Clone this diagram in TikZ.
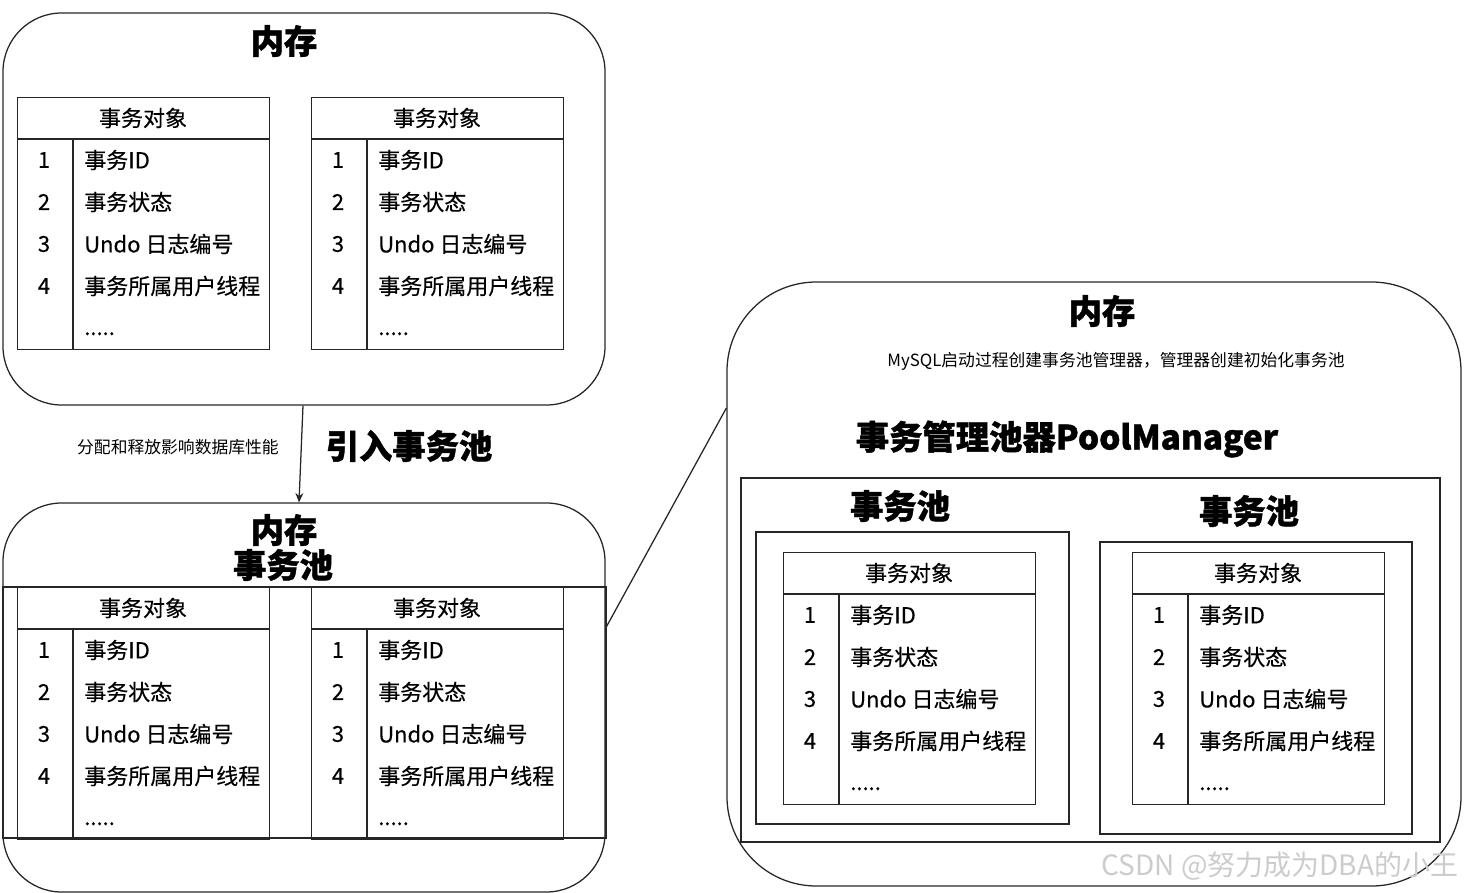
\documentclass[tikz,border=0pt]{standalone}
\usepackage{fontspec}
\setmainfont{Noto Sans CJK SC}[BoldFeatures={FakeBold=1.2}]
\newfontfamily\cellfont{Noto Sans CJK SC}[FakeBold=0.35]
\usetikzlibrary{arrows.meta}
\tikzset{
  ln/.style={draw=black!85, line width=0.95pt},
  cell/.style={inner sep=0pt, font=\cellfont\fontsize{16.5pt}{19pt}\selectfont},
  ttl/.style={inner sep=0pt, font=\fontsize{25pt}{28pt}\selectfont\bfseries},
  small/.style={inner sep=0pt, font=\fontsize{12.6pt}{14pt}\selectfont},
  mem/.style={ln, rectangle, inner sep=0pt, minimum width=451.5pt},
  plain/.style={ln, rectangle, inner sep=0pt},
}
\newcommand\objtable[3]{%
  \begin{scope}[shift={(#2,#3)}]
    \node[plain, anchor=north west, minimum width=189pt, minimum height=189pt] (#1) at (0,0) {};
    \coordinate (#1hl) at (0,42);
    \coordinate (#1hr) at (252,42);
    \coordinate (#1dt) at (56,42);
    \coordinate (#1db) at (56,252);
    \draw[ln] (#1hl) -- (#1hr);
    \draw[ln] (#1dt) -- (#1db);
    \node[cell] (#1h) at (126,21) {事务对象};
    \node[cell] (#1n1) at (27,63) {1};
    \node[cell] (#1n2) at (27,105) {2};
    \node[cell] (#1n3) at (27,147) {3};
    \node[cell] (#1n4) at (27,189) {4};
    \node[cell, anchor=west] (#1t1) at (67,63) {事务ID};
    \node[cell, anchor=west] (#1t2) at (67,105) {事务状态};
    \node[cell, anchor=west] (#1t3) at (67,147) {Undo 日志编号};
    \node[cell, anchor=west] (#1t4) at (67,189) {事务所属用户线程};
    \node[cell, anchor=base west] (#1t5) at (67,238) {.....};
  \end{scope}}
\begin{document}
\begin{tikzpicture}[x=0.75pt, y=-0.75pt]
\useasboundingbox (0,0) rectangle (1465,893);

% top-left memory
\node[mem, minimum height=294pt, rounded corners=44pt] (mem1) at (304,209) {};
\node[ttl] (mem1t) at (284,41) {内存};
\objtable{ta}{17}{97}
\objtable{tb}{311}{97}

% bottom-left memory with pool
\node[mem, minimum height=291.75pt, rounded corners=44pt] (mem2) at (304,697.5) {};
\node[ttl] (mem2t) at (284,530) {内存};
\node[ttl] (mem2p) at (283,565) {事务池};
\node[plain, minimum width=452.25pt, minimum height=188.25pt] (pool0) at (304.5,712.5) {};
\objtable{tc}{17}{587}
\objtable{td}{311}{587}

% arrow between
\draw[ln, -{Stealth[length=7pt, width=6pt]}] ([xshift=-0.75pt]mem1.south) -- ([xshift=-3.75pt]mem2.north);
\node[small] (lbl) at (178,447) {分配和释放影响数据库性能};
\node[ttl] (intro) at (409,446) {引入事务池};

% right memory
\node[plain, minimum width=550.5pt, minimum height=453pt, rounded corners=67pt] (mem3) at (1094,584) {};
\node[ttl] (mem3t) at (1102,311) {内存};
\node[small] (mysql) at (1116,361) {MySQL启动过程创建事务池管理器，管理器创建初始化事务池};
\node[ttl] (pmt) at (1067,439) {事务管理池器PoolManager};
\node[plain, minimum width=524.25pt, minimum height=273pt] (mgr) at (1090.5,660) {};
\node[ttl] (p1t) at (900,506) {事务池};
\node[ttl] (p2t) at (1249,511) {事务池};
\node[plain, minimum width=234.75pt, minimum height=219pt] (pool1) at (912.5,678) {};
\node[plain, minimum width=234pt, minimum height=219pt] (pool2) at (1256,688) {};
\objtable{te}{783}{552}
\objtable{tf}{1132}{552}

% connector
\draw[ln] ([yshift=52pt]mem2.east) -- ([yshift=132pt]mem3.west);

% watermark
\node[inner sep=0pt, text=black!20, font=\fontsize{21pt}{24pt}\selectfont] (wm) at (1280,866) {CSDN @努力成为DBA的小王};
\end{tikzpicture}
\end{document}
